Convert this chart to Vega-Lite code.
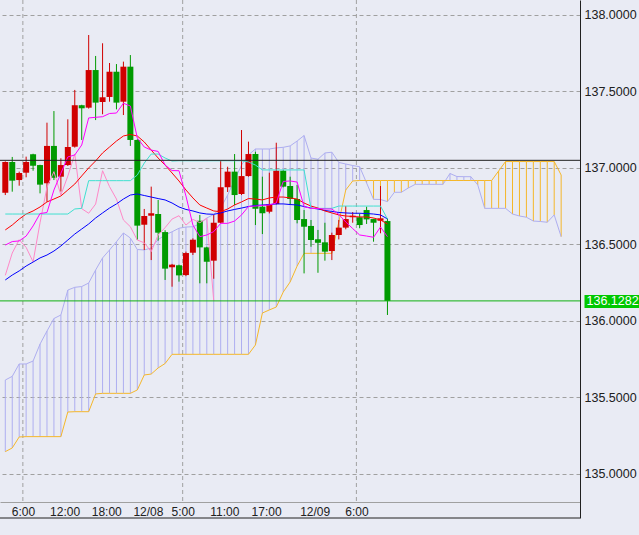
{
  "$schema": "https://vega.github.io/schema/vega-lite/v6.json",
  "autosize": "none",
  "width": 580,
  "height": 518,
  "padding": {"left": 0, "top": 0, "right": 59, "bottom": 17},
  "background": "#e9ebf4",
  "config": {"view": {"stroke": null}},
  "datasets": {
    "bars": [
      {"i":0,"t":"12/07 03:00","o":136.835,"h":137.040,"l":136.820,"c":137.036,"ma1":136.592,"ma2":136.265,"tenkan":136.493,"kijun":136.696,"chikou":136.295,"spanA":135.143,"spanB":135.611},
      {"i":1,"t":"12/07 04:00","o":137.036,"h":137.069,"l":136.842,"c":136.914,"ma1":136.624,"ma2":136.297,"tenkan":136.516,"kijun":136.696,"chikou":136.441,"spanA":135.167,"spanB":135.635},
      {"i":2,"t":"12/07 05:00","o":136.918,"h":136.973,"l":136.881,"c":136.964,"ma1":136.663,"ma2":136.324,"tenkan":136.520,"kijun":136.696,"chikou":136.528,"spanA":135.239,"spanB":135.716},
      {"i":3,"t":"12/07 06:00","o":136.966,"h":137.071,"l":136.936,"c":137.036,"ma1":136.696,"ma2":136.356,"tenkan":136.552,"kijun":136.696,"chikou":136.478,"spanA":135.241,"spanB":135.716},
      {"i":4,"t":"12/07 07:00","o":137.086,"h":137.090,"l":136.979,"c":137.012,"ma1":136.716,"ma2":136.382,"tenkan":136.618,"kijun":136.696,"chikou":136.384,"spanA":135.241,"spanB":135.735},
      {"i":5,"t":"12/07 08:00","o":137.016,"h":137.018,"l":136.831,"c":136.888,"ma1":136.742,"ma2":136.409,"tenkan":136.699,"kijun":136.696,"chikou":136.639,"spanA":135.241,"spanB":135.846},
      {"i":6,"t":"12/07 09:00","o":136.897,"h":137.293,"l":136.776,"c":137.141,"ma1":136.775,"ma2":136.428,"tenkan":136.706,"kijun":136.696,"chikou":136.871,"spanA":135.241,"spanB":135.931},
      {"i":7,"t":"12/07 10:00","o":137.141,"h":137.369,"l":136.918,"c":136.933,"ma1":136.794,"ma2":136.454,"tenkan":136.853,"kijun":136.696,"chikou":136.973,"spanA":135.241,"spanB":136.013},
      {"i":8,"t":"12/07 11:00","o":136.940,"h":137.060,"l":136.842,"c":137.016,"ma1":136.814,"ma2":136.487,"tenkan":136.962,"kijun":136.696,"chikou":136.820,"spanA":135.241,"spanB":136.036},
      {"i":9,"t":"12/07 12:00","o":137.016,"h":137.315,"l":137.010,"c":137.134,"ma1":136.853,"ma2":136.526,"tenkan":137.069,"kijun":136.696,"chikou":136.944,"spanA":135.402,"spanB":136.199},
      {"i":10,"t":"12/07 13:00","o":137.136,"h":137.507,"l":137.130,"c":137.407,"ma1":136.892,"ma2":136.565,"tenkan":137.082,"kijun":136.729,"chikou":137.088,"spanA":135.404,"spanB":136.217},
      {"i":11,"t":"12/07 14:00","o":137.407,"h":137.410,"l":137.180,"c":137.387,"ma1":136.945,"ma2":136.598,"tenkan":137.147,"kijun":136.733,"chikou":136.731,"spanA":135.404,"spanB":136.222},
      {"i":12,"t":"12/07 15:00","o":137.391,"h":137.866,"l":137.385,"c":137.637,"ma1":136.997,"ma2":136.631,"tenkan":137.324,"kijun":136.914,"chikou":136.701,"spanA":135.404,"spanB":136.245},
      {"i":13,"t":"12/07 16:00","o":137.637,"h":137.729,"l":137.310,"c":137.424,"ma1":137.043,"ma2":136.670,"tenkan":137.328,"kijun":136.914,"chikou":136.761,"spanA":135.520,"spanB":136.330},
      {"i":14,"t":"12/07 17:00","o":137.428,"h":137.812,"l":137.348,"c":137.459,"ma1":137.095,"ma2":136.703,"tenkan":137.332,"kijun":136.914,"chikou":136.979,"spanA":135.524,"spanB":136.409},
      {"i":15,"t":"12/07 18:00","o":137.461,"h":137.683,"l":137.430,"c":137.626,"ma1":137.134,"ma2":136.735,"tenkan":137.353,"kijun":136.914,"chikou":136.875,"spanA":135.524,"spanB":136.461},
      {"i":16,"t":"12/07 19:00","o":137.626,"h":137.676,"l":137.380,"c":137.424,"ma1":137.173,"ma2":136.762,"tenkan":137.356,"kijun":136.914,"chikou":136.794,"spanA":135.524,"spanB":136.515},
      {"i":17,"t":"12/07 20:00","o":137.430,"h":137.692,"l":137.343,"c":137.659,"ma1":137.206,"ma2":136.794,"tenkan":137.420,"kijun":136.914,"chikou":136.657,"spanA":135.524,"spanB":136.572},
      {"i":18,"t":"12/07 21:00","o":137.659,"h":137.735,"l":137.141,"c":137.180,"ma1":137.216,"ma2":136.820,"tenkan":137.402,"kijun":136.914,"chikou":136.613,"spanA":135.524,"spanB":136.539},
      {"i":19,"t":"12/07 22:00","o":137.180,"h":137.185,"l":136.526,"c":136.620,"ma1":137.206,"ma2":136.827,"tenkan":137.193,"kijun":136.951,"chikou":136.526,"spanA":135.546,"spanB":136.464},
      {"i":20,"t":"12/07 23:00","o":136.626,"h":136.729,"l":136.461,"c":136.683,"ma1":137.167,"ma2":136.817,"tenkan":137.134,"kijun":137.029,"chikou":136.508,"spanA":135.644,"spanB":136.461},
      {"i":21,"t":"12/08 00:00","o":136.685,"h":136.875,"l":136.395,"c":136.701,"ma1":137.114,"ma2":136.807,"tenkan":137.114,"kijun":137.088,"chikou":136.450,"spanA":135.650,"spanB":136.474},
      {"i":22,"t":"12/08 01:00","o":136.696,"h":136.788,"l":136.522,"c":136.574,"ma1":137.062,"ma2":136.797,"tenkan":137.105,"kijun":137.088,"chikou":136.559,"spanA":135.690,"spanB":136.529},
      {"i":23,"t":"12/08 02:00","o":136.578,"h":136.590,"l":136.265,"c":136.339,"ma1":137.016,"ma2":136.788,"tenkan":137.016,"kijun":137.062,"chikou":136.607,"spanA":135.719,"spanB":136.559},
      {"i":24,"t":"12/08 03:00","o":136.348,"h":136.370,"l":136.221,"c":136.365,"ma1":136.964,"ma2":136.768,"tenkan":136.980,"kijun":137.042,"chikou":136.663,"spanA":135.779,"spanB":136.580},
      {"i":25,"t":"12/08 04:00","o":136.361,"h":136.365,"l":136.254,"c":136.295,"ma1":136.912,"ma2":136.742,"tenkan":136.979,"kijun":137.044,"chikou":136.685,"spanA":135.779,"spanB":136.603},
      {"i":26,"t":"12/08 05:00","o":136.297,"h":136.450,"l":136.290,"c":136.441,"ma1":136.853,"ma2":136.726,"tenkan":136.814,"kijun":137.044,"chikou":136.624,"spanA":135.779,"spanB":136.611},
      {"i":27,"t":"12/08 06:00","o":136.443,"h":136.537,"l":136.428,"c":136.528,"ma1":136.801,"ma2":136.716,"tenkan":136.624,"kijun":137.044,"chikou":136.661,"spanA":135.779,"spanB":136.613},
      {"i":28,"t":"12/08 07:00","o":136.652,"h":136.690,"l":136.243,"c":136.478,"ma1":136.755,"ma2":136.703,"tenkan":136.548,"kijun":137.044,"chikou":136.639,"spanA":135.779,"spanB":136.631},
      {"i":29,"t":"12/08 08:00","o":136.478,"h":136.482,"l":136.243,"c":136.384,"ma1":136.735,"ma2":136.696,"tenkan":136.559,"kijun":137.044,"chikou":136.668,"spanA":135.779,"spanB":136.670},
      {"i":30,"t":"12/08 09:00","o":136.391,"h":136.690,"l":136.273,"c":136.639,"ma1":136.716,"ma2":136.694,"tenkan":136.581,"kijun":137.044,"chikou":136.1282,"spanA":135.779,"spanB":136.693},
      {"i":31,"t":"12/08 10:00","o":136.639,"h":137.044,"l":136.635,"c":136.871,"ma1":136.711,"ma2":136.703,"tenkan":136.635,"kijun":137.044,"spanA":135.779,"spanB":136.735},
      {"i":32,"t":"12/08 11:00","o":136.871,"h":137.005,"l":136.840,"c":136.973,"ma1":136.729,"ma2":136.716,"tenkan":136.635,"kijun":137.044,"spanA":135.779,"spanB":136.820},
      {"i":33,"t":"12/08 12:00","o":136.973,"h":137.088,"l":136.755,"c":136.820,"ma1":136.755,"ma2":136.726,"tenkan":136.650,"kijun":137.044,"spanA":135.779,"spanB":136.918},
      {"i":34,"t":"12/08 13:00","o":136.827,"h":137.245,"l":136.820,"c":136.944,"ma1":136.775,"ma2":136.735,"tenkan":136.690,"kijun":137.044,"spanA":135.779,"spanB":137.016},
      {"i":35,"t":"12/08 14:00","o":136.944,"h":137.169,"l":136.940,"c":137.088,"ma1":136.797,"ma2":136.745,"tenkan":136.745,"kijun":137.036,"spanA":135.779,"spanB":137.082},
      {"i":36,"t":"12/08 15:00","o":137.088,"h":137.103,"l":136.624,"c":136.731,"ma1":136.794,"ma2":136.752,"tenkan":136.748,"kijun":137.016,"spanA":135.840,"spanB":137.121},
      {"i":37,"t":"12/08 16:00","o":136.744,"h":136.940,"l":136.565,"c":136.701,"ma1":136.788,"ma2":136.755,"tenkan":136.752,"kijun":136.984,"spanA":136.049,"spanB":137.121},
      {"i":38,"t":"12/08 17:00","o":136.711,"h":136.966,"l":136.700,"c":136.761,"ma1":136.801,"ma2":136.758,"tenkan":136.755,"kijun":136.984,"spanA":136.069,"spanB":137.121},
      {"i":39,"t":"12/08 18:00","o":136.761,"h":137.162,"l":136.758,"c":136.979,"ma1":136.807,"ma2":136.762,"tenkan":136.768,"kijun":136.984,"spanA":136.088,"spanB":137.128},
      {"i":40,"t":"12/08 19:00","o":136.979,"h":136.985,"l":136.870,"c":136.875,"ma1":136.807,"ma2":136.762,"tenkan":136.909,"kijun":136.984,"spanA":136.186,"spanB":137.132},
      {"i":41,"t":"12/08 20:00","o":136.879,"h":136.940,"l":136.755,"c":136.794,"ma1":136.801,"ma2":136.758,"tenkan":136.912,"kijun":136.984,"spanA":136.252,"spanB":137.141},
      {"i":42,"t":"12/08 21:00","o":136.794,"h":136.886,"l":136.635,"c":136.657,"ma1":136.794,"ma2":136.755,"tenkan":136.905,"kijun":136.984,"spanA":136.356,"spanB":137.173},
      {"i":43,"t":"12/08 22:00","o":136.663,"h":136.722,"l":136.308,"c":136.613,"ma1":136.768,"ma2":136.745,"tenkan":136.744,"kijun":136.984,"spanA":136.439,"spanB":137.209},
      {"i":44,"t":"12/08 23:00","o":136.618,"h":136.657,"l":136.482,"c":136.526,"ma1":136.748,"ma2":136.735,"tenkan":136.733,"kijun":136.733,"spanA":136.439,"spanB":137.062},
      {"i":45,"t":"12/09 00:00","o":136.531,"h":136.592,"l":136.312,"c":136.508,"ma1":136.735,"ma2":136.729,"tenkan":136.732,"kijun":136.733,"spanA":136.439,"spanB":137.054},
      {"i":46,"t":"12/09 01:00","o":136.511,"h":136.639,"l":136.391,"c":136.450,"ma1":136.716,"ma2":136.719,"tenkan":136.729,"kijun":136.733,"spanA":136.439,"spanB":137.095},
      {"i":47,"t":"12/09 02:00","o":136.454,"h":136.574,"l":136.395,"c":136.559,"ma1":136.703,"ma2":136.713,"tenkan":136.729,"kijun":136.733,"spanA":136.439,"spanB":137.100},
      {"i":48,"t":"12/09 03:00","o":136.559,"h":136.657,"l":136.530,"c":136.607,"ma1":136.690,"ma2":136.706,"tenkan":136.693,"kijun":136.748,"spanA":136.644,"spanB":137.033},
      {"i":49,"t":"12/09 04:00","o":136.607,"h":136.748,"l":136.596,"c":136.663,"ma1":136.683,"ma2":136.703,"tenkan":136.644,"kijun":136.748,"spanA":136.853,"spanB":137.023},
      {"i":50,"t":"12/09 05:00","o":136.675,"h":136.709,"l":136.639,"c":136.685,"ma1":136.680,"ma2":136.701,"tenkan":136.601,"kijun":136.748,"spanA":136.912,"spanB":137.013},
      {"i":51,"t":"12/09 06:00","o":136.675,"h":136.700,"l":136.603,"c":136.624,"ma1":136.677,"ma2":136.701,"tenkan":136.559,"kijun":136.748,"spanA":136.915,"spanB":137.005},
      {"i":52,"t":"12/09 07:00","o":136.722,"h":136.744,"l":136.631,"c":136.661,"ma1":136.677,"ma2":136.699,"tenkan":136.552,"kijun":136.748,"spanA":136.915,"spanB":136.899},
      {"i":53,"t":"12/09 08:00","o":136.663,"h":136.665,"l":136.515,"c":136.639,"ma1":136.670,"ma2":136.696,"tenkan":136.544,"kijun":136.748,"spanA":136.915,"spanB":136.792},
      {"i":54,"t":"12/09 09:00","o":136.652,"h":136.879,"l":136.570,"c":136.668,"ma1":136.657,"ma2":136.690,"tenkan":136.611,"kijun":136.748,"spanA":136.915,"spanB":136.791},
      {"i":55,"t":"12/09 10:00","o":136.650,"h":136.668,"l":136.036,"c":136.1282,"ma1":136.631,"ma2":136.664,"tenkan":136.548,"kijun":136.664,"spanA":136.915,"spanB":136.777},
      {"i":56,"spanA":136.915,"spanB":136.838},
      {"i":57,"spanA":136.915,"spanB":136.838},
      {"i":58,"spanA":136.915,"spanB":136.866},
      {"i":59,"spanA":136.915,"spanB":136.890},
      {"i":60,"spanA":136.915,"spanB":136.890},
      {"i":61,"spanA":136.915,"spanB":136.890},
      {"i":62,"spanA":136.915,"spanB":136.890},
      {"i":63,"spanA":136.915,"spanB":136.890},
      {"i":64,"spanA":136.915,"spanB":136.961},
      {"i":65,"spanA":136.915,"spanB":136.941},
      {"i":66,"spanA":136.915,"spanB":136.940},
      {"i":67,"spanA":136.915,"spanB":136.940},
      {"i":68,"spanA":136.915,"spanB":136.886},
      {"i":69,"spanA":136.915,"spanB":136.733},
      {"i":70,"spanA":136.915,"spanB":136.733},
      {"i":71,"spanA":136.977,"spanB":136.733},
      {"i":72,"spanA":137.039,"spanB":136.733},
      {"i":73,"spanA":137.039,"spanB":136.696},
      {"i":74,"spanA":137.039,"spanB":136.683},
      {"i":75,"spanA":137.039,"spanB":136.675},
      {"i":76,"spanA":137.039,"spanB":136.650},
      {"i":77,"spanA":137.039,"spanB":136.647},
      {"i":78,"spanA":137.039,"spanB":136.642},
      {"i":79,"spanA":137.039,"spanB":136.690},
      {"i":80,"spanA":136.951,"spanB":136.548}
    ],
    "vgrid": [{"i": 2.53}, {"i": 25.53}, {"i": 50.53}]
  },
  "layer": [
    {
      "data": {"name": "vgrid"},
      "mark": {"type": "rule", "color": "#a0a0a0", "strokeDash": [4, 3], "strokeWidth": 1},
      "encoding": {
        "x": {"field": "i", "type": "quantitative", "scale": {"domain": [-0.0424, 81.994], "nice": false, "zero": false}},
        "y": {"datum": 138.0948, "type": "quantitative", "scale": {"domain": [134.7092, 138.0948], "nice": false, "zero": false}, "axis": null},
        "y2": {"datum": 134.8138}
      }
    },
    {
      "data": {"name": "bars"},
      "mark": {"type": "rule", "strokeWidth": 1},
      "encoding": {
        "x": {"field": "i", "type": "quantitative", "scale": {"domain": [-0.0424, 81.994], "nice": false, "zero": false}},
        "y": {"field": "spanA", "type": "quantitative", "scale": {"domain": [134.7092, 138.0948], "nice": false, "zero": false}, "axis": null},
        "y2": {"field": "spanB"},
        "color": {"condition": {"test": "datum.spanA > datum.spanB", "value": "#f5b72a"}, "value": "#aeaef0"}
      }
    },
    {
      "data": {"name": "bars"},
      "mark": {"type": "line", "color": "#aeaef0", "strokeWidth": 1},
      "encoding": {
        "x": {"field": "i", "type": "quantitative", "scale": {"domain": [-0.0424, 81.994], "nice": false, "zero": false}},
        "y": {"field": "spanB", "type": "quantitative", "scale": {"domain": [134.7092, 138.0948], "nice": false, "zero": false}, "axis": null}
      }
    },
    {
      "data": {"name": "bars"},
      "mark": {"type": "line", "color": "#f5b72a", "strokeWidth": 1},
      "encoding": {
        "x": {"field": "i", "type": "quantitative", "scale": {"domain": [-0.0424, 81.994], "nice": false, "zero": false}},
        "y": {"field": "spanA", "type": "quantitative", "scale": {"domain": [134.7092, 138.0948], "nice": false, "zero": false}, "axis": null}
      }
    },
    {
      "data": {"name": "bars"},
      "transform": [{"filter": "datum.o != null"}],
      "mark": {"type": "rule", "strokeWidth": 1, "clip": true},
      "encoding": {
        "x": {"field": "i", "type": "quantitative", "scale": {"domain": [-0.0424, 81.994], "nice": false, "zero": false},
          "axis": {"orient": "bottom", "offset": -16, "values": [2.53, 8.53, 14.53, 20.53, 25.53, 31.53, 37.53, 44.53, 50.53],
            "labelExpr": "datum.value < 3 ? '6:00' : datum.value < 9 ? '12:00' : datum.value < 15 ? '18:00' : datum.value < 21 ? '12/08' : datum.value < 26 ? '5:00' : datum.value < 32 ? '11:00' : datum.value < 38 ? '17:00' : datum.value < 45 ? '12/09' : '6:00'",
            "grid": false, "ticks": false, "domainColor": "#a0a0a0", "labelPadding": 4, "labelFontSize": 12, "labelColor": "#202020", "labelFont": "Liberation Sans", "title": null, "labelFlush": false, "labelOverlap": false}},
        "y": {"field": "l", "type": "quantitative", "scale": {"domain": [134.7092, 138.0948], "nice": false, "zero": false},
          "axis": {"orient": "right", "values": [135, 135.5, 136, 136.5, 137, 137.5, 138], "format": ".4f", "grid": true, "gridColor": "#a0a0a0", "gridDash": [4, 3], "gridWidth": 1, "ticks": false, "domain": true, "domainColor": "#202020", "labelPadding": 4, "labelFontSize": 12.5, "labelColor": "#202020", "labelFont": "Liberation Sans", "title": null}},
        "y2": {"field": "h"},
        "color": {"condition": {"test": "datum.c >= datum.o", "value": "#d00000"}, "value": "#009a00"}
      }
    },
    {
      "data": {"name": "bars"},
      "transform": [{"filter": "datum.o != null"}],
      "mark": {"type": "bar", "width": 6, "clip": true},
      "encoding": {
        "x": {"field": "i", "type": "quantitative", "scale": {"domain": [-0.0424, 81.994], "nice": false, "zero": false}},
        "y": {"field": "o", "type": "quantitative", "scale": {"domain": [134.7092, 138.0948], "nice": false, "zero": false}, "axis": null},
        "y2": {"field": "c"},
        "color": {"condition": {"test": "datum.c >= datum.o", "value": "#d00000"}, "value": "#009a00"}
      }
    },
    {
      "data": {"name": "bars"},
      "transform": [{"filter": "datum.chikou != null"}],
      "mark": {"type": "line", "color": "#ff88c8", "strokeWidth": 1},
      "encoding": {
        "x": {"field": "i", "type": "quantitative", "scale": {"domain": [-0.0424, 81.994], "nice": false, "zero": false}},
        "y": {"field": "chikou", "type": "quantitative", "scale": {"domain": [134.7092, 138.0948], "nice": false, "zero": false}, "axis": null}
      }
    },
    {
      "data": {"name": "bars"},
      "transform": [{"filter": "datum.ma2 != null"}],
      "mark": {"type": "line", "color": "#0000ff", "strokeWidth": 1},
      "encoding": {
        "x": {"field": "i", "type": "quantitative", "scale": {"domain": [-0.0424, 81.994], "nice": false, "zero": false}},
        "y": {"field": "ma2", "type": "quantitative", "scale": {"domain": [134.7092, 138.0948], "nice": false, "zero": false}, "axis": null}
      }
    },
    {
      "data": {"name": "bars"},
      "transform": [{"filter": "datum.ma1 != null"}],
      "mark": {"type": "line", "color": "#ff0000", "strokeWidth": 1},
      "encoding": {
        "x": {"field": "i", "type": "quantitative", "scale": {"domain": [-0.0424, 81.994], "nice": false, "zero": false}},
        "y": {"field": "ma1", "type": "quantitative", "scale": {"domain": [134.7092, 138.0948], "nice": false, "zero": false}, "axis": null}
      }
    },
    {
      "data": {"name": "bars"},
      "transform": [{"filter": "datum.kijun != null"}],
      "mark": {"type": "line", "color": "#40e0d0", "strokeWidth": 1},
      "encoding": {
        "x": {"field": "i", "type": "quantitative", "scale": {"domain": [-0.0424, 81.994], "nice": false, "zero": false}},
        "y": {"field": "kijun", "type": "quantitative", "scale": {"domain": [134.7092, 138.0948], "nice": false, "zero": false}, "axis": null}
      }
    },
    {
      "data": {"name": "bars"},
      "transform": [{"filter": "datum.tenkan != null"}],
      "mark": {"type": "line", "color": "#ff00ff", "strokeWidth": 1},
      "encoding": {
        "x": {"field": "i", "type": "quantitative", "scale": {"domain": [-0.0424, 81.994], "nice": false, "zero": false}},
        "y": {"field": "tenkan", "type": "quantitative", "scale": {"domain": [134.7092, 138.0948], "nice": false, "zero": false}, "axis": null}
      }
    },
    {
      "data": {"values": [{"p": 137.047}]},
      "mark": {"type": "rule", "color": "#202020", "strokeWidth": 1},
      "encoding": {
        "y": {"field": "p", "type": "quantitative", "scale": {"domain": [134.7092, 138.0948], "nice": false, "zero": false}, "axis": null}
      }
    },
    {
      "data": {"values": [{"p": 134.7092}]},
      "mark": {"type": "rule", "color": "#202020", "strokeWidth": 1},
      "encoding": {
        "y": {"field": "p", "type": "quantitative", "scale": {"domain": [134.7092, 138.0948], "nice": false, "zero": false}, "axis": null}
      }
    },
    {
      "data": {"values": [{"p": 136.1282}]},
      "mark": {"type": "rule", "color": "#10b010", "strokeWidth": 1},
      "encoding": {
        "y": {"field": "p", "type": "quantitative", "scale": {"domain": [134.7092, 138.0948], "nice": false, "zero": false},
          "axis": {"orient": "right", "offset": 4, "values": [136.1282], "format": ".4f", "domain": false, "grid": false, "ticks": true, "tickColor": "#00c800", "tickSize": 55, "tickWidth": 13, "labelPadding": -53, "labelColor": "#ffffff", "labelFontSize": 12.5, "labelFont": "Liberation Sans", "labelAlign": "left", "title": null}}
      }
    }
  ],
  "resolve": {"axis": {"y": "independent"}}
}
